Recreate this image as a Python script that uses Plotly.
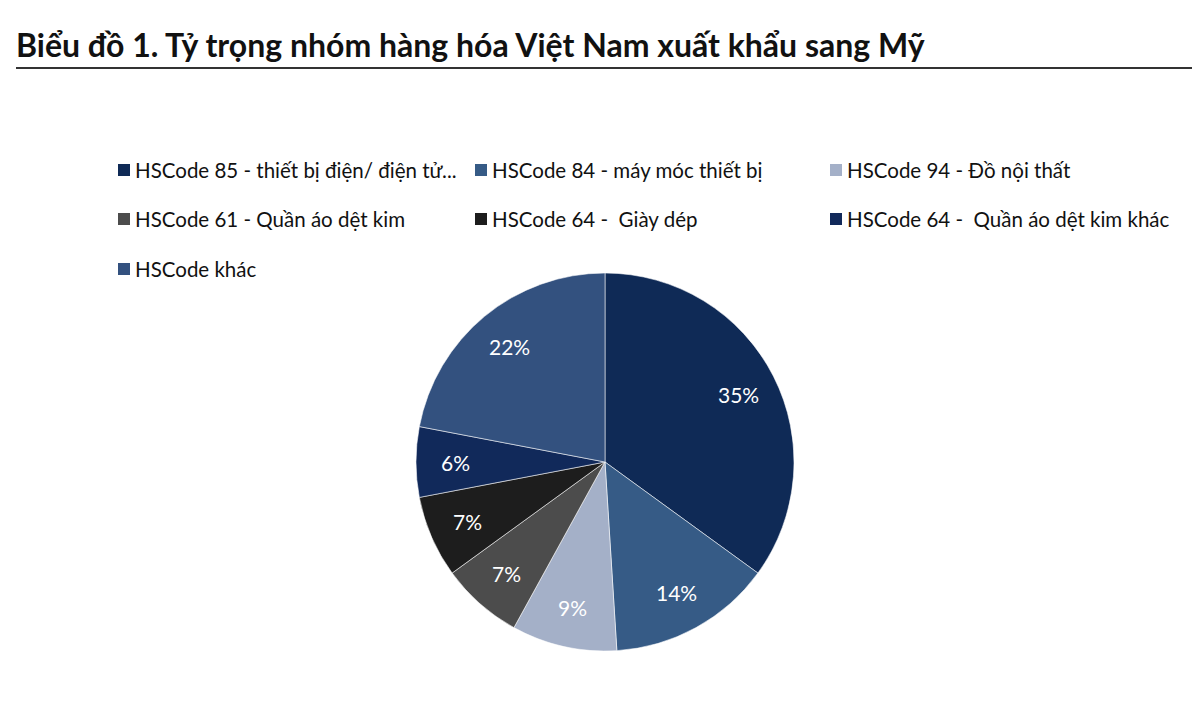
import math
import plotly.graph_objects as go

labels = [
    "HSCode 85 - thiết bị điện/ điện tử...",
    "HSCode 84 - máy móc thiết bị",
    "HSCode 94 - Đồ nội thất",
    "HSCode 61 - Quần áo dệt kim",
    "HSCode 64 -  Giày dép",
    "HSCode 64 -  Quần áo dệt kim khác",
    "HSCode khác",
]
values = [35, 14, 9, 7, 7, 6, 22]
colors = ["#0f2a56", "#365b86", "#a4b0c8", "#4c4c4c", "#1d1d1d", "#11295a", "#33517f"]

# page is offset by the browser's 8px body margin
OFF = 8
W, H = 1200 - OFF, 709 - OFF

def px(x):
    return (x - OFF) / W

def py(y):
    return 1 - (y - OFF) / H

CX, CY, R = 605, 462, 189

fig = go.Figure()
fig.add_trace(go.Pie(
    labels=labels,
    values=values,
    sort=False,
    direction="clockwise",
    rotation=0,
    marker=dict(colors=colors, line=dict(color="rgba(255,255,255,0.55)", width=1)),
    textinfo="none",
    domain=dict(x=[px(CX - R), px(CX + R)], y=[py(CY + R), py(CY - R)]),
    showlegend=False,
    hoverinfo="label+percent",
))

shapes = [
    dict(type="line", xref="paper", yref="paper", x0=px(16), x1=1, y0=py(68), y1=py(68),
         line=dict(color="#333333", width=2)),
]
annotations = [
    dict(text="<b>Biểu đồ 1. Tỷ trọng nhóm hàng hóa Việt Nam xuất khẩu sang Mỹ</b>",
         xref="paper", yref="paper", x=px(14), y=py(45), xanchor="left", yanchor="middle",
         showarrow=False, font=dict(family="Lato", size=32, color="#111111")),
]

# data labels placed along each slice's mid-angle
total = sum(values)
cum = 0
for v in values:
    f = (cum + v / 2) / total
    cum += v
    th = 2 * math.pi * f
    r = 0.79 * R
    lx = CX + r * math.sin(th)
    ly = CY - r * math.cos(th)
    annotations.append(dict(text=f"{round(100 * v / total)}%", xref="paper", yref="paper",
                            x=px(lx), y=py(ly), xanchor="center", yanchor="middle",
                            showarrow=False, font=dict(family="Lato", size=21, color="white")))

col_x = [118, 475, 830]
row_y = [170, 219, 269]
for i, (lab, col) in enumerate(zip(labels, colors)):
    cx = col_x[i % 3]
    cy = row_y[i // 3]
    shapes.append(dict(type="rect", xref="paper", yref="paper",
                       x0=px(cx), x1=px(cx + 12), y0=py(cy - 6), y1=py(cy + 6),
                       fillcolor=col, line=dict(width=0)))
    annotations.append(dict(text=lab, xref="paper", yref="paper", x=px(cx + 15), y=py(cy),
                            xanchor="left", yanchor="middle", showarrow=False,
                            font=dict(family="Lato", size=20.5, color="#111111")))

fig.update_layout(
    width=W, height=H,
    margin=dict(l=0, r=0, t=0, b=0),
    paper_bgcolor="white",
    plot_bgcolor="white",
    shapes=shapes,
    annotations=annotations,
)

fig.write_html("out.html")
